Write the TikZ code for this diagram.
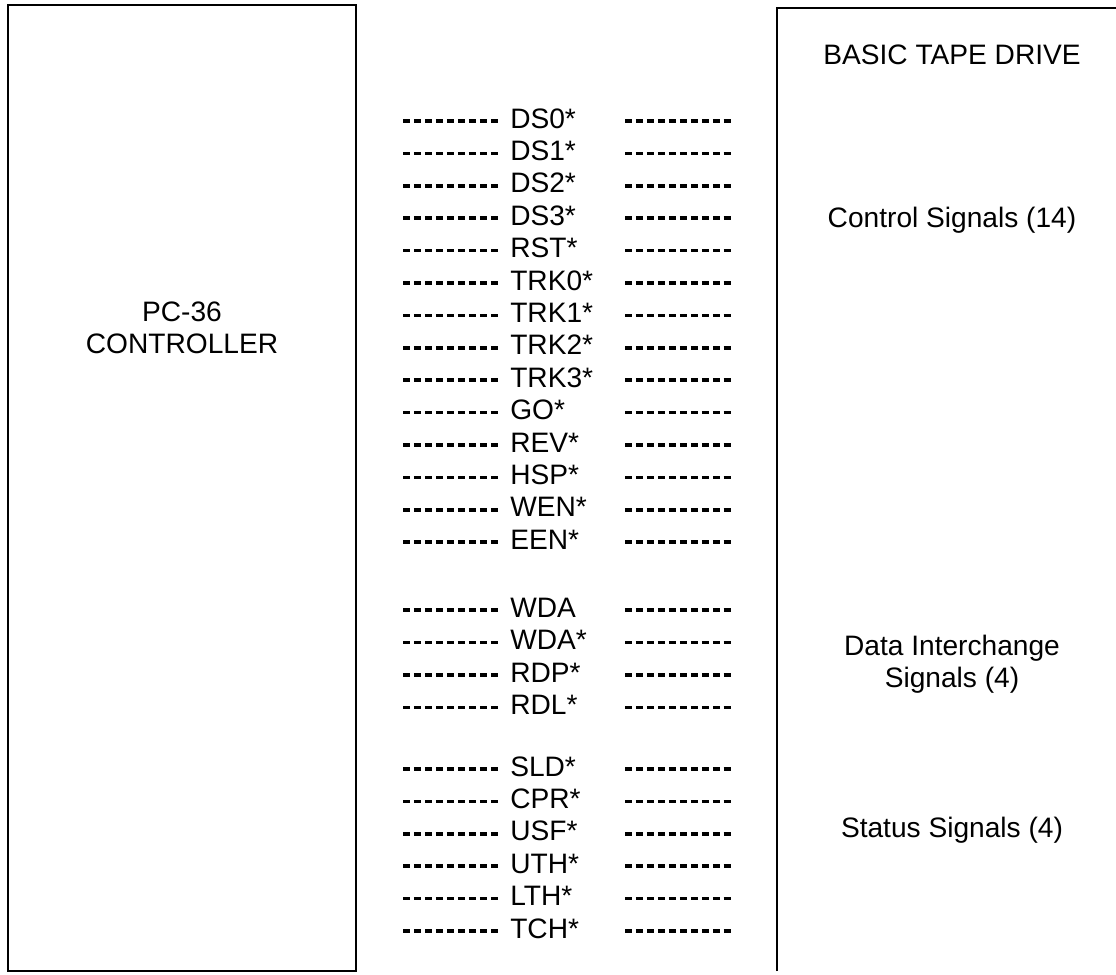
\documentclass[tikz,border=0pt]{standalone}
\usepackage{fontspec}
\setmainfont{Liberation Sans}
\tikzset{
  box/.style={draw, line width=1.8pt},
  sig/.style={anchor=base west, inner sep=0pt},
  sigdash/.style={line width=2.6pt, dash pattern=on 4.9pt off 2.9pt},
  side/.style={align=center, inner sep=0pt}
}
\begin{document}
\begin{tikzpicture}[x=0.025cm, y=-0.025cm, font=\fontsize{20pt}{22.8pt}\selectfont]
    \useasboundingbox (0,0) rectangle (1116,974);
    \draw[box] (8,5) rectangle (356,971);
    \node[side] (ctrl) at (182,328) {PC-36\\CONTROLLER};
    \coordinate (tdbot) at (777,971);
    \coordinate (tdtop) at (777,8);
    \coordinate (tdend) at (1116,8);
    \draw[box] (tdbot) -- (tdtop) -- (tdend);
    \node[side] (title) at (952,55) {BASIC TAPE DRIVE};
    \node[side] (ctl) at (952,220) {Control Signals (14)};
    \node[side] (dat) at (952,664) {Data Interchange\\Signals (4)};
    \node[side] (sts) at (952,830) {Status Signals (4)};
    \foreach \lab/\k [count=\i] in {DS0*/0, DS1*/1, DS2*/2, DS3*/3, RST*/4, TRK0*/5, TRK1*/6, TRK2*/7, TRK3*/8, GO*/9, REV*/10, HSP*/11, WEN*/12, EEN*/13, WDA/15.1, WDA*/16.1, RDP*/17.1, RDL*/18.1, SLD*/20, CPR*/21, USF*/22, UTH*/23, LTH*/24, TCH*/25} {
        \coordinate (l\i) at (403,121+32.4*\k);
        \node[sig] (s\i) at (510,128+32.4*\k) {\lab};
        \coordinate (r\i) at (625,121+32.4*\k);
        \coordinate (e\i) at (733,121+32.4*\k);
        \draw[sigdash, shorten >=0.3cm] (l\i) -- (l\i -| s\i.west);
        \draw[sigdash] (r\i) -- (e\i);
    }
\end{tikzpicture}
\end{document}
